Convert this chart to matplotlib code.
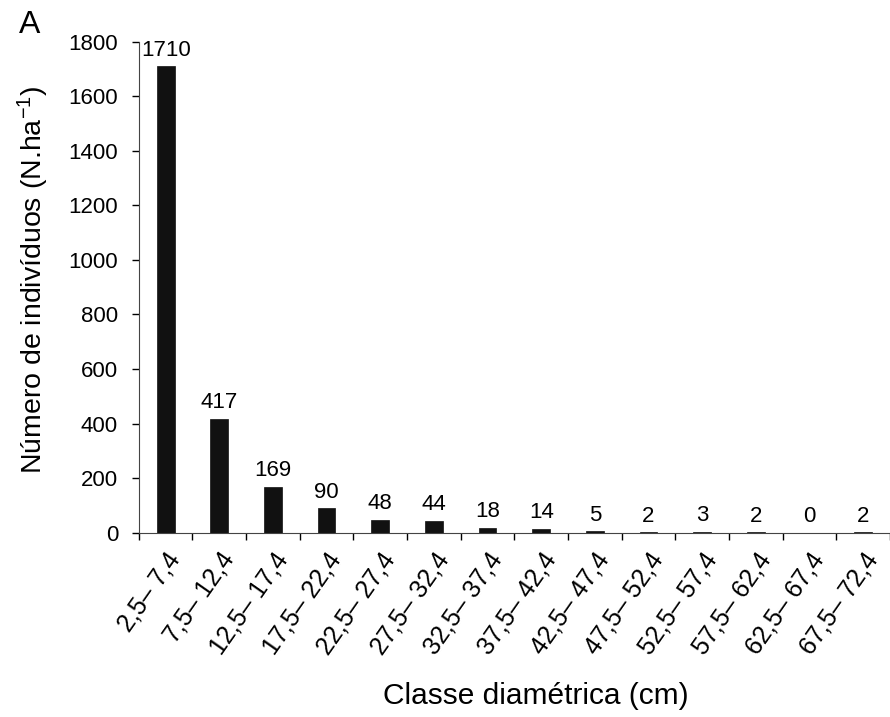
import matplotlib
matplotlib.use('Agg')
import matplotlib.pyplot as plt

plt.rcParams['font.family'] = ['Liberation Sans', 'DejaVu Sans']
plt.rcParams['mathtext.default'] = 'regular'

# diameter classes (cm) and density per hectare
classes = ['2,5– 7,4', '7,5– 12,4', '12,5– 17,4', '17,5– 22,4', '22,5– 27,4',
           '27,5– 32,4', '32,5– 37,4', '37,5– 42,4', '42,5– 47,4', '47,5– 52,4',
           '52,5– 57,4', '57,5– 62,4', '62,5– 67,4', '67,5– 72,4']
densidade = [1710, 417, 169, 90, 48, 44, 18, 14, 5, 2, 3, 2, 0, 2]

fig = plt.figure(figsize=(8.9, 7.17), dpi=100)
ax = fig.add_axes([0.156, 0.257, 0.844, 0.685])

pos = list(range(len(classes)))
ax.bar(pos, densidade, width=0.33, color='#111111', edgecolor='#111111', linewidth=0.5)

for x, v in zip(pos, densidade):
    ax.annotate(str(v), (x, v), xytext=(0, 4), textcoords='offset points',
                ha='center', va='bottom', fontsize=16)

ax.set_xlim(-0.5, 13.4)
ax.set_ylim(0, 1800)
ax.set_yticks(range(0, 1801, 200))
ax.tick_params(axis='y', labelsize=16, direction='out', length=5, width=1, pad=10)

# tick marks between classes, labels centred under the bars
ax.set_xticks([p - 0.5 for p in pos] + [13.5])
ax.set_xticklabels([])
ax.tick_params(axis='x', which='major', direction='out', length=5, width=1)
ax.set_xticks(pos, minor=True)
ax.set_xticklabels(classes, minor=True, rotation=55, ha='right', va='top',
                   rotation_mode='anchor', fontsize=18)
ax.tick_params(axis='x', which='minor', length=0, pad=11)

for s in ['top', 'right']:
    ax.spines[s].set_visible(False)
ax.spines['left'].set_color('#444444')
ax.spines['bottom'].set_color('#444444')

fig.text(33 / 890, 1 - 280 / 717, 'Número de indivíduos (N.ha$^{-1}$)', fontsize=20.5,
         rotation=90, ha='center', va='center')
fig.text(536 / 890, 1 - 696 / 717, 'Classe diamétrica (cm)', fontsize=21.5,
         ha='center', va='center')

fig.text(30 / 890, 1 - 33 / 717, 'A', fontsize=23, ha='center', va='baseline')

fig.savefig('out.png', dpi=100)
